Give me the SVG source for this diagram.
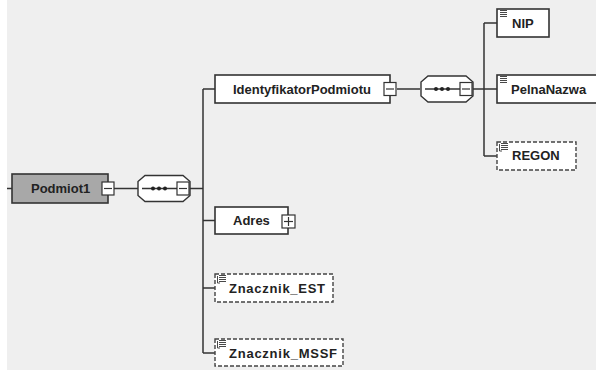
<svg xmlns="http://www.w3.org/2000/svg" width="596" height="372" viewBox="0 0 596 372">
<defs>
<style>
.bg{fill:#efefef}
.box{fill:#fff;stroke:#333;stroke-width:1.6}
.root{fill:#a8a8a8;stroke:#333;stroke-width:1.6}
.opt{fill:#fff;stroke:#444;stroke-width:1.4;stroke-dasharray:4 2}
.ln{fill:none;stroke:#333;stroke-width:1.5}
.btn{fill:#fff;stroke:#333;stroke-width:1.2}
.sym{fill:none;stroke:#333;stroke-width:1.2}
.oct{fill:#fff;stroke:#333;stroke-width:1.4}
.ic{stroke:#333;stroke-width:0.9}
text{font-family:"Liberation Sans",Arial,sans-serif;font-weight:bold;font-size:13px;fill:#222}
</style>
<g id="ico"><line class="ic" x1="0" y1="0.5" x2="7" y2="0.5"/><line class="ic" x1="0" y1="2.5" x2="7" y2="2.5"/><line class="ic" x1="0" y1="4.5" x2="7" y2="4.5"/><line class="ic" x1="0" y1="6.5" x2="7" y2="6.5"/></g>
<g id="minus"><rect class="btn" x="0" y="0" width="12" height="13"/><line class="sym" x1="2" y1="6.5" x2="10" y2="6.5"/></g>
<g id="seq"><path class="oct" d="M7,0 H45 L52,6 V20 L45,26 H7 L0,20 V6 Z"/><line class="ln" x1="4" y1="13" x2="40" y2="13"/><circle cx="15" cy="13" r="2" fill="#222"/><circle cx="21" cy="13" r="2" fill="#222"/><circle cx="27" cy="13" r="2" fill="#222"/><use href="#minus" x="39" y="6.5"/></g>
</defs>
<rect x="0" y="0" width="596" height="372" fill="#fff"/>
<rect class="bg" x="7" y="0" width="589" height="370"/>
<g id="connectors">
<line class="ln" x1="7" y1="188.5" x2="12" y2="188.5"/>
<line class="ln" x1="114" y1="188.5" x2="138" y2="188.5"/>
<line class="ln" x1="190" y1="188.5" x2="203" y2="188.5"/>
<line class="ln" x1="203" y1="89" x2="203" y2="353"/>
<line class="ln" x1="203" y1="89" x2="215" y2="89"/>
<line class="ln" x1="203" y1="220.5" x2="215" y2="220.5"/>
<line class="ln" x1="203" y1="288" x2="215" y2="288"/>
<line class="ln" x1="203" y1="353" x2="215" y2="353"/>
<line class="ln" x1="397" y1="89" x2="420" y2="89"/>
<line class="ln" x1="473" y1="89" x2="497" y2="89"/>
<line class="ln" x1="484" y1="23" x2="484" y2="156"/>
<line class="ln" x1="484" y1="23" x2="497" y2="23"/>
<line class="ln" x1="484" y1="156" x2="497" y2="156"/>
</g>
<g id="Podmiot1">
<rect class="root" x="12" y="174" width="96" height="29"/>
<text x="31" y="192.5">Podmiot1</text>
<use href="#minus" x="102" y="182"/>
</g>
<g id="seq1"><use href="#seq" x="138" y="175.5"/></g>
<g id="IdentyfikatorPodmiotu">
<rect class="box" x="215" y="75" width="175" height="28"/>
<text x="233" y="93.5">IdentyfikatorPodmiotu</text>
<use href="#minus" x="384" y="82.5"/>
</g>
<g id="seq2"><use href="#seq" x="421" y="76"/></g>
<g id="NIP">
<rect class="box" x="497" y="9" width="52" height="28"/>
<use href="#ico" x="500" y="10"/>
<text x="512" y="27.5">NIP</text>
</g>
<g id="PelnaNazwa">
<rect class="box" x="497" y="75" width="106" height="28"/>
<use href="#ico" x="500" y="76"/>
<text x="511" y="93.5">PelnaNazwa</text>
</g>
<g id="REGON">
<rect class="opt" x="497" y="142" width="79" height="28"/>
<use href="#ico" x="501" y="143"/>
<path class="ic" fill="none" d="M502,151 H499.5 V144"/>
<text x="512" y="160">REGON</text>
</g>
<g id="Adres">
<rect class="box" x="215" y="207" width="73" height="27"/>
<text x="233" y="225">Adres</text>
<rect class="btn" x="282" y="215" width="13" height="13"/>
<line class="sym" x1="284" y1="221.5" x2="293" y2="221.5"/>
<line class="sym" x1="288.5" y1="217" x2="288.5" y2="226"/>
</g>
<g id="Znacznik_EST">
<rect class="opt" x="215" y="274" width="118" height="28"/>
<use href="#ico" x="219" y="275"/>
<path class="ic" fill="none" d="M220,283 H217.5 V276"/>
<text x="229" y="292.5" textLength="96" lengthAdjust="spacing">Znacznik_EST</text>
</g>
<g id="Znacznik_MSSF">
<rect class="opt" x="215" y="339" width="128" height="27"/>
<use href="#ico" x="219" y="340"/>
<path class="ic" fill="none" d="M220,348 H217.5 V341"/>
<text x="229" y="357.5" textLength="108" lengthAdjust="spacing">Znacznik_MSSF</text>
</g>
</svg>
